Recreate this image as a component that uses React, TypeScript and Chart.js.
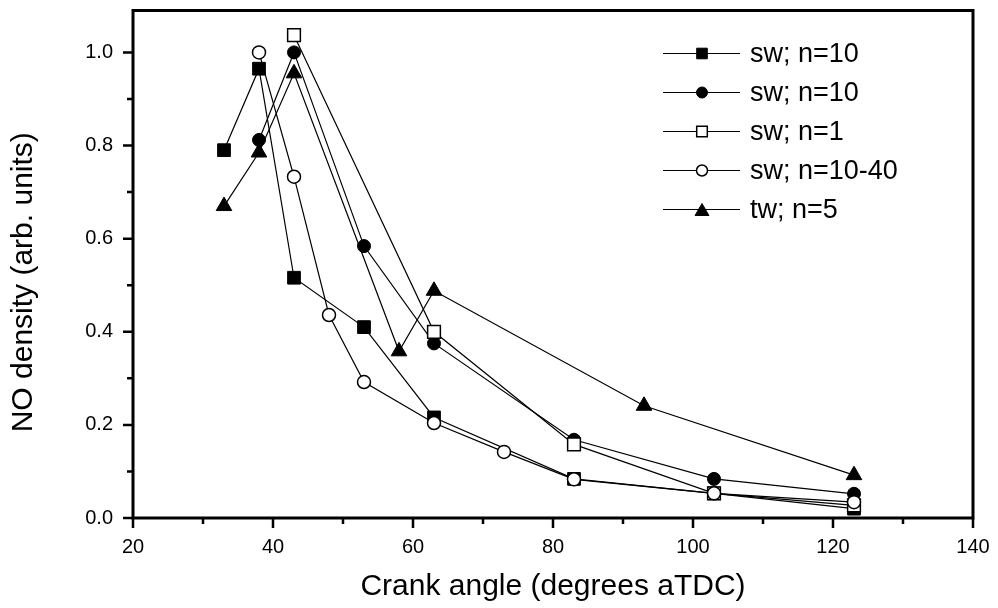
import React, { useEffect, useRef } from 'react';
import { Chart, registerables } from 'chart.js';

Chart.register(...registerables);

// ---- data ----
const seriesLabels = ['sw; n=10', 'sw; n=10', 'sw; n=1', 'sw; n=10-40', 'tw; n=5'];

const swN10SquareX = [33, 38, 43, 53, 63, 83, 103, 123];
const swN10SquareY = [0.79, 0.965, 0.516, 0.41, 0.216, 0.084, 0.053, 0.02];

const swN10CircleX = [38, 43, 53, 63, 83, 103, 123];
const swN10CircleY = [0.812, 1.0, 0.584, 0.375, 0.168, 0.084, 0.052];

const swN1X = [43, 63, 83, 103, 123];
const swN1Y = [1.037, 0.4, 0.158, 0.053, 0.027];

const swN1040X = [38, 43, 48, 53, 63, 73, 83, 103, 123];
const swN1040Y = [1.0, 0.733, 0.436, 0.292, 0.204, 0.142, 0.083, 0.053, 0.034];

const twN5X = [33, 38, 43, 58, 63, 93, 123];
const twN5Y = [0.67, 0.785, 0.955, 0.358, 0.488, 0.241, 0.092];

const xMajorTicks = [20, 40, 60, 80, 100, 120, 140];
const xMinorTicks = [30, 50, 70, 90, 110, 130];
const yMajorTicks = [0, 0.2, 0.4, 0.6, 0.8, 1.0];
const yMinorTicks = [0.1, 0.3, 0.5, 0.7, 0.9];

const xTitle = 'Crank angle (degrees aTDC)';
const yTitle = 'NO density (arb. units)';

const FONT = '"Liberation Sans", Arial, Helvetica, sans-serif';

type MarkerKind = 'rect' | 'circle' | 'triangle';
const markerKinds: MarkerKind[] = ['rect', 'circle', 'rect', 'circle', 'triangle'];
const markerFilled = [true, true, false, false, true];

function pts(xs: number[], ys: number[]) {
  return xs.map((x, i) => ({ x, y: ys[i] }));
}

function drawMarker(ctx: CanvasRenderingContext2D, kind: MarkerKind, filled: boolean, x: number, y: number, r: number) {
  ctx.save();
  ctx.beginPath();
  if (kind === 'rect') {
    const s = r * Math.SQRT1_2;
    ctx.rect(x - s, y - s, 2 * s, 2 * s);
  } else if (kind === 'circle') {
    ctx.arc(x, y, r, 0, Math.PI * 2);
  } else {
    ctx.moveTo(x, y - r);
    ctx.lineTo(x + r * Math.sin((2 * Math.PI) / 3), y - r * Math.cos((2 * Math.PI) / 3));
    ctx.lineTo(x + r * Math.sin((4 * Math.PI) / 3), y - r * Math.cos((4 * Math.PI) / 3));
    ctx.closePath();
  }
  ctx.fillStyle = filled ? '#000' : '#fff';
  ctx.fill();
  ctx.lineWidth = filled ? 1 : 1.5;
  ctx.strokeStyle = '#000';
  ctx.stroke();
  ctx.restore();
}

const framePlugin = {
  id: 'frameAndTicks',
  afterDraw(chart: any) {
    const { ctx, chartArea, scales } = chart;
    const xs = scales.x;
    const ys = scales.y;
    ctx.save();
    ctx.strokeStyle = '#000';
    ctx.lineWidth = 3;
    ctx.strokeRect(chartArea.left, chartArea.top, chartArea.right - chartArea.left, chartArea.bottom - chartArea.top);
    ctx.lineWidth = 2.5;
    ctx.beginPath();
    for (const v of xMajorTicks) {
      const px = xs.getPixelForValue(v);
      ctx.moveTo(px, chartArea.bottom);
      ctx.lineTo(px, chartArea.bottom + 10);
    }
    for (const v of xMinorTicks) {
      const px = xs.getPixelForValue(v);
      ctx.moveTo(px, chartArea.bottom);
      ctx.lineTo(px, chartArea.bottom + 6);
    }
    for (const v of yMajorTicks) {
      const py = ys.getPixelForValue(v);
      ctx.moveTo(chartArea.left, py);
      ctx.lineTo(chartArea.left - 10, py);
    }
    for (const v of yMinorTicks) {
      const py = ys.getPixelForValue(v);
      ctx.moveTo(chartArea.left, py);
      ctx.lineTo(chartArea.left - 6, py);
    }
    ctx.stroke();

    // y-axis title (placed slightly below the plot centre, as in the original)
    ctx.save();
    ctx.translate(24, (chartArea.top + chartArea.bottom) / 2 + 18);
    ctx.rotate(-Math.PI / 2);
    ctx.font = `30px ${FONT}`;
    ctx.textAlign = 'center';
    ctx.textBaseline = 'middle';
    ctx.fillStyle = '#000';
    ctx.fillText(yTitle, 0, 0);
    ctx.restore();

    // legend
    const lx0 = chartArea.right - 310;
    const y0 = chartArea.top + 43;
    const rowH = 39;
    ctx.font = `27px ${FONT}`;
    ctx.textBaseline = 'middle';
    ctx.textAlign = 'left';
    ctx.fillStyle = '#000';
    seriesLabels.forEach((label, i) => {
      const y = y0 + i * rowH;
      ctx.beginPath();
      ctx.lineWidth = 1.2;
      ctx.moveTo(lx0, y);
      ctx.lineTo(lx0 + 77, y);
      ctx.stroke();
      const kind = markerKinds[i];
      const r = kind === 'circle' ? 5.5 : kind === 'triangle' ? 8 : 7.5;
      drawMarker(ctx, kind, markerFilled[i], lx0 + 39, y + (kind === 'triangle' ? 2 : 0), r);
      ctx.fillStyle = '#000';
      ctx.fillText(label, lx0 + 87, y + 1);
    });
    ctx.restore();
  },
};

export default function App() {
  const canvasRef = useRef<HTMLCanvasElement | null>(null);

  useEffect(() => {
    if (!canvasRef.current) return;
    Chart.defaults.font.family = FONT;
    Chart.defaults.color = '#000';

    const seriesX = [swN10SquareX, swN10CircleX, swN1X, swN1040X, twN5X];
    const seriesY = [swN10SquareY, swN10CircleY, swN1Y, swN1040Y, twN5Y];
    const radii = [9, 6.5, 9, 6.5, 9];

    const datasets = seriesLabels.map((label, i) => ({
      label,
      data: pts(seriesX[i], seriesY[i]),
      borderColor: '#000',
      borderWidth: 1.2,
      backgroundColor: markerFilled[i] ? '#000' : '#fff',
      pointStyle: markerKinds[i],
      pointRadius: radii[i],
      pointBorderColor: '#000',
      pointBackgroundColor: markerFilled[i] ? '#000' : '#fff',
      pointBorderWidth: markerFilled[i] ? 1 : 1.5,
      tension: 0,
      fill: false,
      order: [4, 3, 1, 0, 2][i],
    }));

    const chart = new Chart(canvasRef.current, {
      type: 'line',
      data: { datasets },
      options: {
        animation: false,
        responsive: true,
        maintainAspectRatio: false,
        layout: { padding: { top: 10, right: 25, left: 0, bottom: 0 } },
        plugins: { legend: { display: false }, tooltip: { enabled: false } },
        scales: {
          x: {
            type: 'linear',
            min: 20,
            max: 140,
            grid: { display: false, drawTicks: false },
            border: { display: false },
            ticks: {
              stepSize: 20,
              includeBounds: false,
              padding: 17,
              font: { size: 20, family: FONT },
              color: '#000',
              maxRotation: 0,
            },
            title: {
              display: true,
              text: xTitle,
              font: { size: 30, family: FONT },
              color: '#000',
              padding: { top: 0, bottom: 3 },
            },
            afterFit: (scale: any) => {
              scale.height = 90;
              scale.paddingLeft = 0;
              scale.paddingRight = 0;
              scale.paddingTop = 0;
              scale.paddingBottom = 0;
            },
          },
          y: {
            type: 'linear',
            min: 0,
            max: 1.09,
            grid: { display: false, drawTicks: false },
            border: { display: false },
            ticks: {
              stepSize: 0.2,
              includeBounds: false,
              padding: 20,
              font: { size: 20, family: FONT },
              color: '#000',
              callback: (v: any) => Number(v).toFixed(1),
            },
            title: { display: false, text: yTitle },
            afterFit: (scale: any) => {
              scale.width = 133;
              scale.paddingLeft = 0;
              scale.paddingRight = 0;
              scale.paddingTop = 0;
              scale.paddingBottom = 0;
            },
          },
        },
      },
      plugins: [framePlugin],
    });

    return () => chart.destroy();
  }, []);

  return (
    <div style={{ position: 'fixed', left: 0, top: 0, width: 998, height: 608, background: '#fff' }}>
      <canvas ref={canvasRef} />
    </div>
  );
}
